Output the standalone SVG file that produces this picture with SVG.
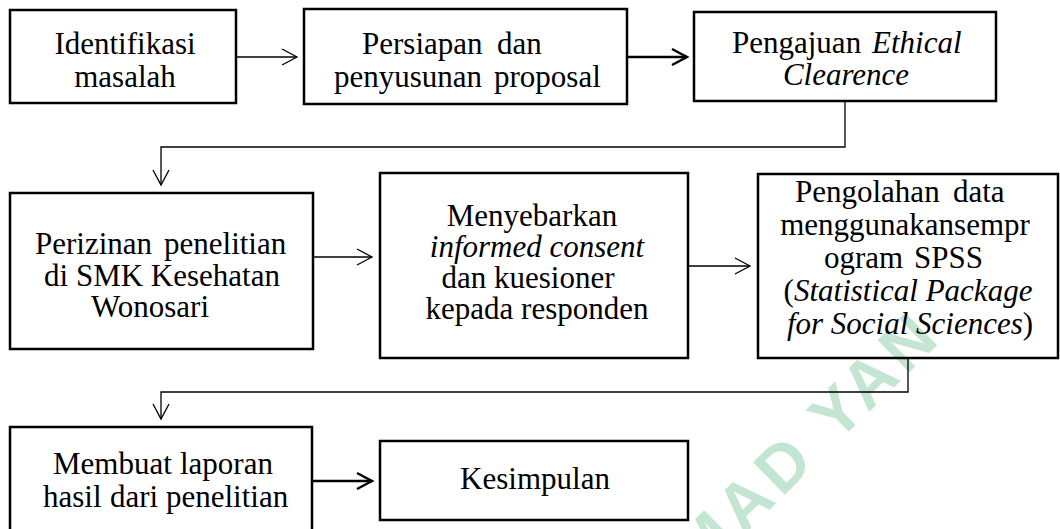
<svg xmlns="http://www.w3.org/2000/svg" width="1060" height="529" viewBox="0 0 1060 529">
<defs>
<marker id="ah" markerUnits="userSpaceOnUse" markerWidth="20" markerHeight="20" refX="16" refY="9" orient="auto" viewBox="0 0 20 18" overflow="visible">
<path d="M1,1 L16,9 L1,17" fill="none" stroke="#000" stroke-width="1.3"/>
</marker>
<marker id="ahk" markerUnits="userSpaceOnUse" markerWidth="20" markerHeight="20" refX="16" refY="9" orient="auto" viewBox="0 0 20 18" overflow="visible">
<path d="M1,1 L16,9 L1,17" fill="none" stroke="#000" stroke-width="2.4"/>
</marker>
</defs>
<rect width="1060" height="529" fill="#fff"/>
<text font-family="Liberation Sans" font-weight="bold" font-size="66" fill="#c4e5d2" letter-spacing="6" x="700" y="578" transform="rotate(-44.5 700 578)">MAD YAN</text>

<g id="connectors" fill="none" stroke="#000">
<path stroke-width="1.3" d="M236,57 H297" marker-end="url(#ah)"/>
<path stroke-width="2.4" d="M627,57 H687" marker-end="url(#ahk)"/>
<path stroke-width="1.3" d="M845,101 V147 H161 V185" marker-end="url(#ah)"/>
<path stroke-width="1.3" d="M313,257 H372" marker-end="url(#ah)"/>
<path stroke-width="1.3" d="M688,266 H750" marker-end="url(#ah)"/>
<path stroke-width="1.3" d="M908,358 V392 H161 V419" marker-end="url(#ah)"/>
<path stroke-width="2.4" d="M312,481 H372" marker-end="url(#ahk)"/>
</g>

<g id="n1">
<rect fill="none" stroke="#000" stroke-width="2.5" x="10" y="10" width="226" height="93"/>
<text font-family="Liberation Serif" font-size="31" x="125" y="54" text-anchor="middle">Identifikasi</text>
<text font-family="Liberation Serif" font-size="31" x="125" y="87" text-anchor="middle">masalah</text>
</g>
<g id="n2">
<rect fill="none" stroke="#000" stroke-width="2.5" x="304" y="9" width="323" height="95"/>
<text font-family="Liberation Serif" font-size="31" y="54"><tspan x="362">Persiapan</tspan><tspan x="497">dan</tspan></text>
<text font-family="Liberation Serif" font-size="31" y="87"><tspan x="334">penyusunan</tspan><tspan x="494">proposal</tspan></text>
</g>
<g id="n3">
<rect fill="none" stroke="#000" stroke-width="2.5" x="694" y="12" width="302" height="89"/>
<text font-family="Liberation Serif" font-size="31" y="53"><tspan x="732">Pengajuan</tspan><tspan x="872" font-style="italic">Ethical</tspan></text>
<text font-family="Liberation Serif" font-size="31" font-style="italic" x="846" y="85" text-anchor="middle">Clearence</text>
</g>
<g id="n4">
<rect fill="none" stroke="#000" stroke-width="2.5" x="10" y="193" width="303" height="156"/>
<text font-family="Liberation Serif" font-size="31" y="254"><tspan x="35">Perizinan</tspan><tspan x="164">penelitian</tspan></text>
<text font-family="Liberation Serif" font-size="31" x="162" y="286" text-anchor="middle">di SMK Kesehatan</text>
<text font-family="Liberation Serif" font-size="31" x="150" y="317" text-anchor="middle">Wonosari</text>
</g>
<g id="n5">
<rect fill="none" stroke="#000" stroke-width="2.5" x="380" y="173" width="308" height="185"/>
<text font-family="Liberation Serif" font-size="31" x="532" y="226" text-anchor="middle">Menyebarkan</text>
<text font-family="Liberation Serif" font-size="31" font-style="italic" x="537" y="257" text-anchor="middle">informed consent</text>
<text font-family="Liberation Serif" font-size="31" x="528" y="288" text-anchor="middle">dan kuesioner</text>
<text font-family="Liberation Serif" font-size="31" x="537" y="319" text-anchor="middle">kepada responden</text>
</g>
<g id="n6">
<rect fill="none" stroke="#000" stroke-width="2.5" x="758" y="174" width="300" height="184"/>
<text font-family="Liberation Serif" font-size="31" y="202"><tspan x="795">Pengolahan</tspan><tspan x="953">data</tspan></text>
<text font-family="Liberation Serif" font-size="31" x="905" y="235" text-anchor="middle">menggunakansempr</text>
<text font-family="Liberation Serif" font-size="31" y="268"><tspan x="824">ogram</tspan><tspan x="914">SPSS</tspan></text>
<text font-family="Liberation Serif" font-size="31" x="908" y="301" text-anchor="middle">(<tspan font-style="italic">Statistical Package</tspan></text>
<text font-family="Liberation Serif" font-size="31" x="910" y="334" text-anchor="middle"><tspan font-style="italic">for Social Sciences</tspan>)</text>
</g>
<g id="n7">
<rect fill="none" stroke="#000" stroke-width="2.5" x="10" y="427" width="302" height="120"/>
<text font-family="Liberation Serif" font-size="31" y="474"><tspan x="53">Membuat</tspan><tspan x="180">laporan</tspan></text>
<text font-family="Liberation Serif" font-size="31" y="507"><tspan x="43">hasil</tspan><tspan x="110">dari penelitian</tspan></text>
</g>
<g id="n8">
<rect fill="none" stroke="#000" stroke-width="2.5" x="380" y="441" width="308" height="79"/>
<text font-family="Liberation Serif" font-size="31" x="535" y="489" text-anchor="middle">Kesimpulan</text>
</g>
</svg>
